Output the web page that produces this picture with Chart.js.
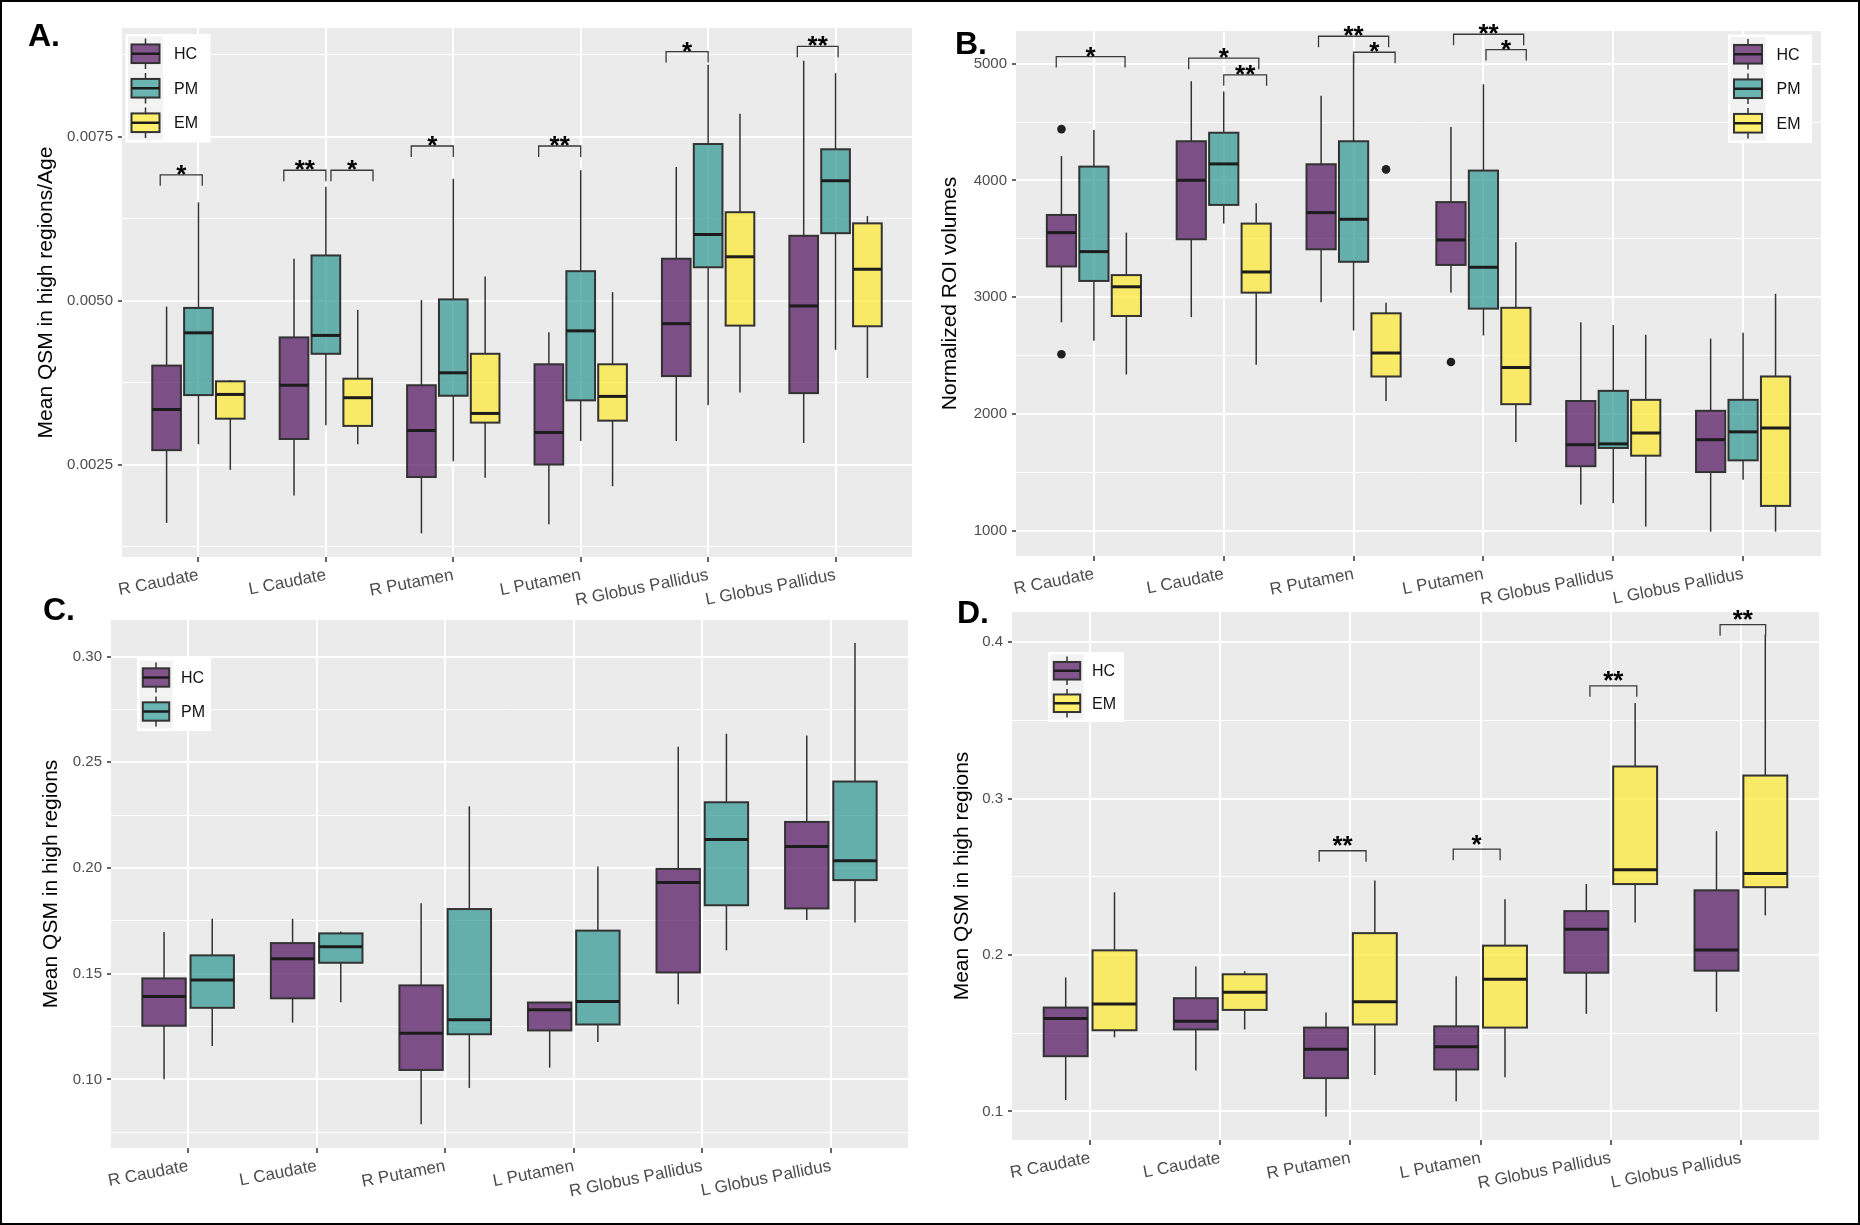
<!DOCTYPE html>
<html>
<head>
<meta charset="utf-8">
<script src="https://cdn.jsdelivr.net/npm/chart.js"></script>
<style>
  body { margin: 0; background: #fff; }
  #fig { position: relative; width: 1860px; height: 1225px; overflow: hidden; background: #fff; }
  .panel { position: absolute; }
  .tag { position: absolute; font: bold 32px "Liberation Sans", Arial, sans-serif; line-height: 32px; color: #000; z-index: 5; }
  #frame { position: absolute; left: 0; top: 0; width: 1860px; height: 1225px; box-sizing: border-box; border: 2px solid #000; z-index: 6; pointer-events: none; }
</style>
</head>
<body>
<div id="fig">
  <div class="panel" style="left:0px;top:0px"><canvas id="cA" width="930" height="612"></canvas></div>
  <div class="panel" style="left:930px;top:0px"><canvas id="cB" width="930" height="612"></canvas></div>
  <div class="panel" style="left:0px;top:590px"><canvas id="cC" width="930" height="635"></canvas></div>
  <div class="panel" style="left:930px;top:590px"><canvas id="cD" width="930" height="635"></canvas></div>
  <div class="tag" style="left:28px;top:19px">A.</div>
  <div class="tag" style="left:955px;top:27px">B.</div>
  <div class="tag" style="left:43px;top:593px">C.</div>
  <div class="tag" style="left:957px;top:596px">D.</div>
  <div id="frame"></div>
</div>
<script>
// regions on the x axis
const regions = ['R Caudate', 'L Caudate', 'R Putamen', 'L Putamen', 'R Globus Pallidus', 'L Globus Pallidus'];

// each row: [lower whisker, Q1, median, Q3, upper whisker]
// A. Mean QSM in high regions / Age
const aHC = [
  [0.00161, 0.00272, 0.00334, 0.00401, 0.00491],
  [0.00203, 0.00289, 0.00371, 0.00444, 0.00564],
  [0.00145, 0.00231, 0.00302, 0.00371, 0.00501],
  [0.00159, 0.00250, 0.00299, 0.00403, 0.00452],
  [0.00286, 0.00385, 0.00465, 0.00564, 0.00704],
  [0.00283, 0.00359, 0.00492, 0.00599, 0.00866]
];
const aPM = [
  [0.00281, 0.00356, 0.00451, 0.00489, 0.00650],
  [0.00310, 0.00419, 0.00447, 0.00569, 0.00674],
  [0.00255, 0.00355, 0.00390, 0.00502, 0.00686],
  [0.00286, 0.00348, 0.00454, 0.00545, 0.00699],
  [0.00341, 0.00551, 0.00601, 0.00739, 0.00860],
  [0.00425, 0.00603, 0.00683, 0.00731, 0.00847]
];
const aEM = [
  [0.00242, 0.00320, 0.00357, 0.00377, 0.00379],
  [0.00281, 0.00309, 0.00352, 0.00381, 0.00486],
  [0.00230, 0.00314, 0.00328, 0.00419, 0.00537],
  [0.00217, 0.00317, 0.00354, 0.00403, 0.00513],
  [0.00360, 0.00462, 0.00567, 0.00635, 0.00785],
  [0.00382, 0.00461, 0.00548, 0.00618, 0.00629]
];
// significance brackets: [region, from offset, to offset, y, label]
const aSig = [
  [0, -0.30, 0.03, 0.00692, '*'],
  [1, -0.33, 0.00, 0.00699, '**'],
  [1, 0.04, 0.37, 0.00699, '*'],
  [2, -0.33, 0.00, 0.00736, '*'],
  [3, -0.33, 0.00, 0.00736, '**'],
  [4, -0.33, 0.00, 0.00880, '*'],
  [5, -0.30, 0.02, 0.00888, '**']
];
const aTicks = [0.0025, 0.0050, 0.0075];
const aTickLabels = ['0.0025', '0.0050', '0.0075'];
const aMinor = [0.00125, 0.00375, 0.00625, 0.00875];

// B. Normalized ROI volumes
const bHC = [
  [2786, 3264, 3554, 3705, 4209],
  [2830, 3497, 4002, 4336, 4850],
  [2957, 3411, 3725, 4139, 4726],
  [3040, 3277, 3491, 3815, 4459],
  [1227, 1554, 1738, 2112, 2786],
  [993, 1504, 1781, 2028, 2646]
];
const bPM = [
  [2629, 3140, 3391, 4119, 4432],
  [3631, 3791, 4142, 4409, 4763],
  [2716, 3304, 3668, 4336, 5080],
  [2673, 2903, 3257, 4085, 4824],
  [1237, 1710, 1745, 2199, 2763],
  [1437, 1604, 1848, 2122, 2696]
];
const bEM = [
  [2339, 2840, 3090, 3190, 3554],
  [2422, 3040, 3217, 3631, 3805],
  [2112, 2322, 2523, 2863, 2953],
  [1761, 2085, 2399, 2910, 3471],
  [1037, 1644, 1838, 2122, 2679],
  [993, 1214, 1881, 2322, 3030]
];
// outliers: [region, value]
const bOutHC = [[0, 4440], [0, 2513], [3, 2446]];
const bOutEM = [[2, 4095]];
const bSig = [
  [0, -0.29, 0.24, 5061, '*'],
  [1, -0.27, 0.27, 5047, '*'],
  [1, 0.00, 0.33, 4905, '**'],
  [2, -0.27, 0.27, 5235, '**'],
  [2, 0.00, 0.32, 5098, '*'],
  [3, -0.23, 0.31, 5252, '**'],
  [3, 0.02, 0.33, 5121, '*']
];
const bTicks = [1000, 2000, 3000, 4000, 5000];
const bTickLabels = ['1000', '2000', '3000', '4000', '5000'];
const bMinor = [1500, 2500, 3500, 4500];

// C. Mean QSM in high regions, HC vs PM
const cHC = [
  [0.1001, 0.1254, 0.1393, 0.1478, 0.1698],
  [0.1269, 0.1384, 0.1571, 0.1645, 0.1760],
  [0.0788, 0.1045, 0.1219, 0.1445, 0.1834],
  [0.1056, 0.1232, 0.1330, 0.1364, 0.1366],
  [0.1356, 0.1506, 0.1932, 0.1996, 0.2573],
  [0.1754, 0.1809, 0.2102, 0.2218, 0.2627]
];
const cPM = [
  [0.1158, 0.1339, 0.1471, 0.1587, 0.1760],
  [0.1365, 0.1552, 0.1628, 0.1691, 0.1700],
  [0.0960, 0.1214, 0.1282, 0.1806, 0.2292],
  [0.1177, 0.1260, 0.1369, 0.1704, 0.2007],
  [0.1611, 0.1824, 0.2135, 0.2311, 0.2635],
  [0.1743, 0.1943, 0.2035, 0.2409, 0.3064]
];
const cTicks = [0.10, 0.15, 0.20, 0.25, 0.30];
const cTickLabels = ['0.10', '0.15', '0.20', '0.25', '0.30'];
const cMinor = [0.075, 0.125, 0.175, 0.225, 0.275];

// D. Mean QSM in high regions, HC vs EM
const dHC = [
  [0.1073, 0.1353, 0.1594, 0.1664, 0.1857],
  [0.1261, 0.1524, 0.1576, 0.1724, 0.1927],
  [0.0967, 0.1213, 0.1398, 0.1536, 0.1632],
  [0.1065, 0.1268, 0.1414, 0.1544, 0.1865],
  [0.1624, 0.1887, 0.2165, 0.2281, 0.2454],
  [0.1637, 0.1900, 0.2033, 0.2414, 0.2792]
];
const dEM = [
  [0.1474, 0.1519, 0.1687, 0.2030, 0.2401],
  [0.1524, 0.1649, 0.1762, 0.1877, 0.1897],
  [0.1233, 0.1556, 0.1702, 0.2140, 0.2476],
  [0.1218, 0.1536, 0.1845, 0.2060, 0.2356],
  [0.2208, 0.2454, 0.2546, 0.3206, 0.3612],
  [0.2253, 0.2434, 0.2521, 0.3148, 0.4050]
];
const dSig = [
  [2, -0.24, 0.12, 0.2667, '**'],
  [3, -0.21, 0.15, 0.2677, '*'],
  [4, -0.16, 0.20, 0.3722, '**'],
  [5, -0.16, 0.19, 0.4113, '**']
];
const dTicks = [0.1, 0.2, 0.3, 0.4];
const dTickLabels = ['0.1', '0.2', '0.3', '0.4'];
const dMinor = [0.15, 0.25, 0.35];

const FONT = '"Liberation Sans", Arial, Helvetica, sans-serif';
Chart.defaults.font.family = FONT;

const colHC = 'rgba(68, 1, 84, 0.67)';
const colPM = 'rgba(33, 144, 140, 0.67)';
const colEM = 'rgba(253, 231, 37, 0.67)';

function line(ctx, x1, y1, x2, y2) {
  ctx.beginPath();
  ctx.moveTo(x1, y1);
  ctx.lineTo(x2, y2);
  ctx.stroke();
}

const near = (v, list) => list.some(t => Math.abs(t - v) < 1e-9);

function boxPlugin(p) {
  const n = p.groups.length;
  const step = 0.75 / n;
  const bw = step * 0.9;
  const dodge = gi => (gi - (n - 1) / 2) * step;
  return {
    id: 'boxes' + p.id,
    beforeDraw(chart) {
      const { ctx, chartArea: a } = chart;
      ctx.save();
      ctx.fillStyle = '#EBEBEB';
      ctx.fillRect(a.left, a.top, a.right - a.left, a.bottom - a.top);
      ctx.restore();
    },
    beforeDatasetsDraw(chart) {
      const { ctx, scales: { x, y } } = chart;
      ctx.save();
      p.groups.forEach((g, gi) => {
        const dx = dodge(gi);
        g.stats.forEach((s, i) => {
          const cx = x.getPixelForValue(i + dx);
          const x0 = x.getPixelForValue(i + dx - bw / 2);
          const x1 = x.getPixelForValue(i + dx + bw / 2);
          const [lo, q1, md, q3, hi] = s.map(v => y.getPixelForValue(v));
          ctx.strokeStyle = '#333';
          ctx.lineWidth = 1.5;
          line(ctx, cx, hi, cx, q3);
          line(ctx, cx, q1, cx, lo);
          ctx.fillStyle = g.color;
          ctx.fillRect(x0, q3, x1 - x0, q1 - q3);
          ctx.lineWidth = 2;
          ctx.strokeStyle = '#333';
          ctx.strokeRect(x0, q3, x1 - x0, q1 - q3);
          ctx.strokeStyle = '#1c1c1c';
          ctx.lineWidth = 3;
          line(ctx, x0, md, x1, md);
        });
      });
      ctx.restore();
    },
    afterDatasetsDraw(chart) {
      const { ctx, scales: { x, y } } = chart;
      ctx.save();
      (p.sig || []).forEach(([ri, from, to, v, label]) => {
        const xa = x.getPixelForValue(ri + from);
        const xb = x.getPixelForValue(ri + to);
        const yy = y.getPixelForValue(v);
        ctx.strokeStyle = '#3a3a3a';
        ctx.lineWidth = 1.3;
        ctx.beginPath();
        ctx.moveTo(xa, yy + 11);
        ctx.lineTo(xa, yy);
        ctx.lineTo(xb, yy);
        ctx.lineTo(xb, yy + 11);
        ctx.stroke();
        ctx.fillStyle = '#000';
        ctx.font = 'bold 26px ' + FONT;
        ctx.textAlign = 'center';
        ctx.textBaseline = 'alphabetic';
        ctx.fillText(label, (xa + xb) / 2, yy + p.starDy);
      });
      ctx.restore();
    },
    afterDraw(chart) {
      const { ctx, chartArea: a } = chart;
      const L = p.legend;
      const h = L.pad * 2 + n * L.rowH;
      const bx = L.right != null ? a.right - L.right - L.w : a.left + L.left;
      const by = a.top + L.top;
      ctx.save();
      ctx.fillStyle = '#fff';
      ctx.fillRect(bx, by, L.w, h);
      p.groups.forEach((g, r) => {
        const kx = bx + L.pad;
        const ky = by + L.pad + r * L.rowH;
        ctx.fillStyle = '#F2F2F2';
        ctx.fillRect(kx, ky, L.keyW, L.rowH);
        const cx = kx + L.keyW / 2;
        const cy = ky + L.rowH / 2;
        const gw = L.keyW * 0.8, gh = L.rowH * 0.54;
        ctx.strokeStyle = '#333';
        ctx.lineWidth = 1.5;
        line(ctx, cx, ky + 2, cx, ky + L.rowH - 2);
        ctx.fillStyle = '#fff';
        ctx.fillRect(cx - gw / 2, cy - gh / 2, gw, gh);
        ctx.fillStyle = g.color;
        ctx.fillRect(cx - gw / 2, cy - gh / 2, gw, gh);
        ctx.lineWidth = 2;
        ctx.strokeRect(cx - gw / 2, cy - gh / 2, gw, gh);
        ctx.strokeStyle = '#1c1c1c';
        ctx.lineWidth = 2.5;
        line(ctx, cx - gw / 2, cy, cx + gw / 2, cy);
        ctx.fillStyle = '#111';
        ctx.font = '16px ' + FONT;
        ctx.textAlign = 'left';
        ctx.textBaseline = 'middle';
        ctx.fillText(g.name, bx + L.labelX, cy + 1);
      });
      ctx.restore();
    }
  };
}

function makePanel(p) {
  const n = p.groups.length;
  const step = 0.75 / n;
  const datasets = p.groups.map((g, gi) => {
    const dx = (gi - (n - 1) / 2) * step;
    return {
      label: g.name,
      data: (g.out || []).map(o => ({ x: o[0] + dx, y: o[1] })),
      pointRadius: 4.3,
      pointBackgroundColor: '#1f1f1f',
      pointBorderWidth: 0,
      showLine: false
    };
  });
  const allTicks = p.ticks.concat(p.minor).sort((u, v) => u - v);
  new Chart(document.getElementById(p.id), {
    type: 'scatter',
    data: { datasets },
    plugins: [boxPlugin(p)],
    options: {
      responsive: false,
      animation: false,
      layout: { padding: { left: 0, top: p.padTop, right: p.padRight, bottom: 0 } },
      plugins: { legend: { display: false }, tooltip: { enabled: false } },
      scales: {
        x: {
          type: 'linear',
          min: -0.6,
          max: 5.6,
          afterBuildTicks: s => { s.ticks = regions.map((r, i) => ({ value: i })); },
          afterFit: s => { s.height = p.xHeight; },
          border: { display: false },
          grid: { color: '#fff', lineWidth: 2, tickColor: '#333', tickWidth: 1.5, tickLength: 5 },
          ticks: {
            autoSkip: false,
            minRotation: 11,
            maxRotation: 11,
            padding: 3,
            color: '#4D4D4D',
            font: { size: 17 },
            callback: v => regions[Math.round(v)]
          }
        },
        y: {
          min: p.min,
          max: p.max,
          afterBuildTicks: s => { s.ticks = allTicks.map(v => ({ value: v })); },
          afterFit: s => { s.width = p.yWidth; },
          border: { display: false },
          grid: {
            color: '#fff',
            lineWidth: c => near(c.tick.value, p.ticks) ? 2 : 1,
            tickColor: c => near(c.tick.value, p.ticks) ? '#333' : 'rgba(0,0,0,0)',
            tickWidth: 1.5,
            tickLength: 4
          },
          ticks: {
            autoSkip: false,
            padding: 5,
            color: '#4D4D4D',
            font: { size: 15 },
            callback: v => {
              const k = p.ticks.findIndex(t => Math.abs(t - v) < 1e-9);
              return k >= 0 ? p.tickLabels[k] : '';
            }
          },
          title: {
            display: true,
            text: p.title,
            color: '#000',
            font: { size: 21 },
            padding: { top: p.titlePad, bottom: 0 }
          }
        }
      }
    }
  });
}

makePanel({
  id: 'cA', title: 'Mean QSM in high regions/Age',
  min: 0.00109, max: 0.00916, ticks: aTicks, tickLabels: aTickLabels, minor: aMinor,
  groups: [
    { name: 'HC', color: colHC, stats: aHC },
    { name: 'PM', color: colPM, stats: aPM },
    { name: 'EM', color: colEM, stats: aEM }
  ],
  sig: aSig, starDy: 8,
  yWidth: 122, xHeight: 55, padTop: 28, padRight: 18, titlePad: 34,
  legend: { left: 3.5, top: 6, w: 85, rowH: 34.5, keyW: 35, pad: 2.5, labelX: 48.5 }
});

makePanel({
  id: 'cB', title: 'Normalized ROI volumes',
  min: 785, max: 5280, ticks: bTicks, tickLabels: bTickLabels, minor: bMinor,
  groups: [
    { name: 'HC', color: colHC, stats: bHC, out: bOutHC },
    { name: 'PM', color: colPM, stats: bPM },
    { name: 'EM', color: colEM, stats: bEM, out: bOutEM }
  ],
  sig: bSig, starDy: 8,
  yWidth: 86, xHeight: 56, padTop: 31, padRight: 39, titlePad: 8,
  legend: { right: 9, top: 3.5, w: 84, rowH: 34.5, keyW: 35, pad: 2.5, labelX: 48.5 }
});

makePanel({
  id: 'cC', title: 'Mean QSM in high regions',
  min: 0.0676, max: 0.3173, ticks: cTicks, tickLabels: cTickLabels, minor: cMinor,
  groups: [
    { name: 'HC', color: colHC, stats: cHC },
    { name: 'PM', color: colPM, stats: cPM }
  ],
  yWidth: 111, xHeight: 77, padTop: 30, padRight: 22, titlePad: 39,
  legend: { left: 26, top: 38, w: 74, rowH: 34, keyW: 33, pad: 2.5, labelX: 44 }
});

makePanel({
  id: 'cD', title: 'Mean QSM in high regions',
  min: 0.0817, max: 0.4194, ticks: dTicks, tickLabels: dTickLabels, minor: dMinor,
  groups: [
    { name: 'HC', color: colHC, stats: dHC },
    { name: 'EM', color: colEM, stats: dEM }
  ],
  sig: dSig, starDy: 3.5,
  yWidth: 82, xHeight: 85, padTop: 22, padRight: 41, titlePad: 20,
  legend: { left: 36, top: 40, w: 76, rowH: 32.5, keyW: 33, pad: 2.5, labelX: 44 }
});
</script>
</body>
</html>
